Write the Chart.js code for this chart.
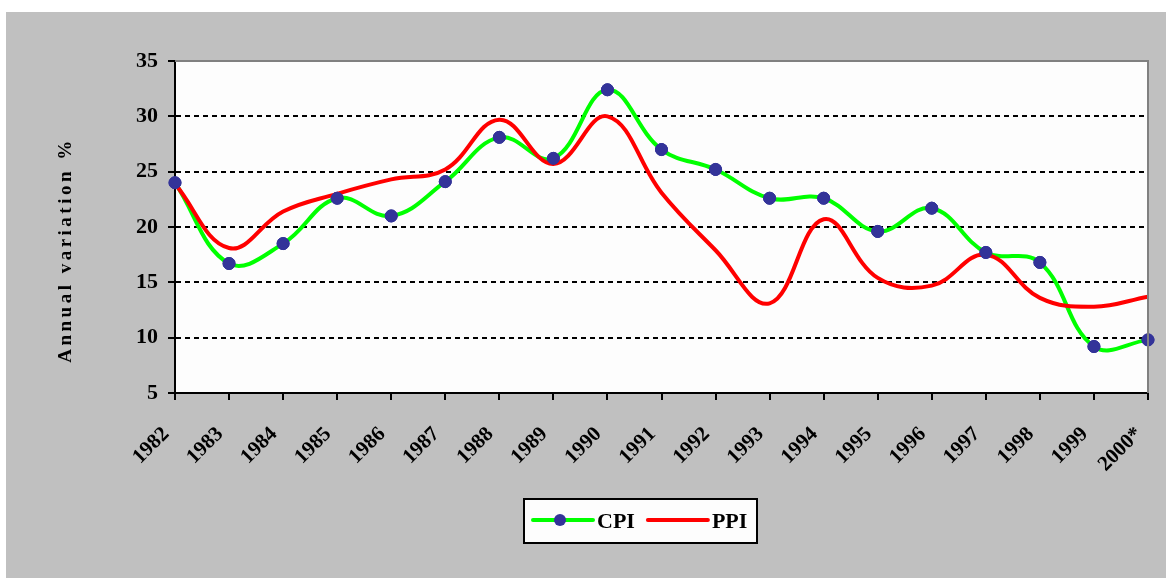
<!DOCTYPE html>
<html>
<head>
<meta charset="utf-8">
<script src="https://cdn.jsdelivr.net/npm/chart.js@4"></script>
<style>
  html, body { margin: 0; padding: 0; background: #fff; }
  #wrap { position: absolute; left: 6px; top: 12px; width: 1160px; height: 566px; background: #c0c0c0; }
</style>
</head>
<body>
<div id="wrap"><canvas id="infl" width="1160" height="566"></canvas></div>
<script>
const years = ["1982", "1983", "1984", "1985", "1986", "1987", "1988", "1989", "1990", "1991",
               "1992", "1993", "1994", "1995", "1996", "1997", "1998", "1999", "2000*"];
const cpi = [24.0, 16.7, 18.5, 22.6, 21.0, 24.1, 28.1, 26.2, 32.4, 27.0,
             25.2, 22.6, 22.6, 19.6, 21.7, 17.7, 16.8, 9.2, 9.8];
const ppi = [23.9, 18.1, 21.4, 23.0, 24.3, 25.2, 29.7, 25.7, 30.0, 23.1,
             17.9, 13.1, 20.7, 15.4, 14.7, 17.5, 13.6, 12.8, 13.7];
const yTicks = [5, 10, 15, 20, 25, 30, 35];
const yTitle = "Annual variation %";

const serif = "'Liberation Serif', 'Times New Roman', serif";

// plot background + grey top/right frame, markers redrawn on top
const frame = {
  id: "frame",
  beforeDraw(chart) {
    const { ctx, chartArea: a } = chart;
    ctx.save();
    ctx.fillStyle = "#fdfdfd";
    ctx.fillRect(a.left, a.top, a.right - a.left, a.bottom - a.top);
    ctx.restore();
  },
  afterDatasetsDraw(chart) {
    const { ctx, chartArea: a } = chart;
    // CPI markers sit above both lines
    chart.getDatasetMeta(0).data.forEach(p => p.draw(ctx, a));
    ctx.save();
    ctx.strokeStyle = "#808080";
    ctx.lineWidth = 2;
    ctx.beginPath();
    ctx.moveTo(a.left, a.top);
    ctx.lineTo(a.right, a.top);
    ctx.lineTo(a.right, a.bottom);
    ctx.stroke();
    ctx.restore();
  },
  afterDraw(chart) {
    const { ctx } = chart;
    // y axis title
    ctx.save();
    ctx.translate(60, 238);
    ctx.rotate(-Math.PI / 2);
    ctx.font = "bold 19px " + serif;
    if ("letterSpacing" in ctx) ctx.letterSpacing = "3.5px";
    ctx.fillStyle = "#000";
    ctx.textAlign = "center";
    ctx.textBaseline = "middle";
    ctx.fillText(yTitle, 0, 0);
    ctx.restore();

    // legend box
    const ds = chart.data.datasets;
    const bx = 518, by = 487, bw = 233, bh = 44;
    ctx.save();
    ctx.fillStyle = "#fdfdfd";
    ctx.fillRect(bx, by, bw, bh);
    ctx.strokeStyle = "#000";
    ctx.lineWidth = 2;
    ctx.strokeRect(bx, by, bw, bh);
    ctx.font = "bold 22px " + serif;
    ctx.textBaseline = "alphabetic";
    ctx.fillStyle = "#000";
    let x = bx + 9;
    const ly = by + 21;
    ds.forEach(d => {
      ctx.strokeStyle = d.borderColor;
      ctx.lineWidth = 4;
      ctx.lineCap = "round";
      ctx.beginPath();
      ctx.moveTo(x, ly);
      ctx.lineTo(x + 60, ly);
      ctx.stroke();
      if (d.pointRadius > 0) {
        ctx.fillStyle = d.pointBackgroundColor;
        ctx.beginPath();
        ctx.arc(x + 27, ly, d.pointRadius, 0, Math.PI * 2);
        ctx.fill();
      }
      ctx.fillStyle = "#000";
      ctx.fillText(d.label, x + 64, by + 29);
      x += 64 + ctx.measureText(d.label).width + 13;
    });
    ctx.restore();
  }
};

new Chart(document.getElementById("infl"), {
  type: "line",
  data: {
    labels: years,
    datasets: [
      {
        label: "CPI",
        data: cpi,
        borderColor: "#00ff00",
        borderWidth: 4,
        tension: 0.4,
        pointRadius: 6,
        pointBackgroundColor: "#333399",
        pointBorderColor: "#333399",
        pointBorderWidth: 1,
        order: 2
      },
      {
        label: "PPI",
        data: ppi,
        borderColor: "#ff0000",
        borderWidth: 4,
        tension: 0.4,
        pointRadius: 0,
        order: 1
      }
    ]
  },
  options: {
    responsive: false,
    animation: false,
    layout: { padding: { top: 49, right: 18, left: 0, bottom: 0 } },
    plugins: { legend: { display: false }, tooltip: { enabled: false } },
    scales: {
      x: {
        offset: false,
        afterFit: s => { s.height = 185; s.paddingLeft = 0; s.paddingRight = 0; },
        grid: { drawOnChartArea: false, color: "#000", lineWidth: 2, tickLength: 7 },
        border: { color: "#000", width: 2 },
        ticks: {
          color: "#000",
          font: { family: serif, size: 21, weight: "bold" },
          minRotation: 45,
          maxRotation: 45,
          autoSkip: false,
          padding: 22,
          labelOffset: -9
        }
      },
      y: {
        min: yTicks[0],
        max: yTicks[yTicks.length - 1],
        afterFit: s => { s.width = 169; },
        afterBuildTicks: s => { s.ticks = yTicks.map(v => ({ value: v })); },
        grid: {
          color: c => (c.tick && (c.tick.value === 5 || c.tick.value === 35)) ? "rgba(0,0,0,0)" : "#000",
          lineWidth: 2,
          tickLength: 7,
          tickColor: "#000",
          tickWidth: 2
        },
        border: { color: "#000", width: 2, dash: [5, 4] },
        ticks: {
          color: "#000",
          font: { family: serif, size: 22, weight: "bold" },
          padding: 10
        }
      }
    }
  },
  plugins: [frame]
});
</script>
</body>
</html>
